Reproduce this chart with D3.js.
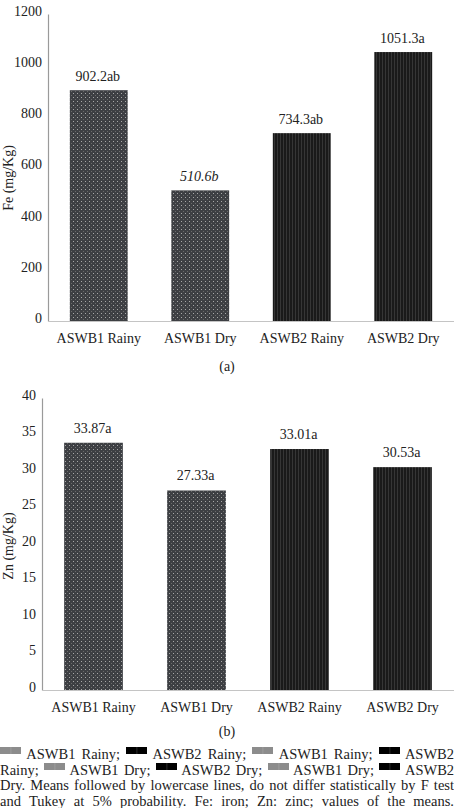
<!DOCTYPE html>
<html>
<head>
<meta charset="utf-8">
<script src="https://cdn.jsdelivr.net/npm/d3@7"></script>
<style>
  body { margin: 0; background: #fff; }
  #wrap { position: relative; width: 454px; height: 808px; overflow: hidden; }
  svg { position: absolute; left: 0; top: 0; }
  text { font-family: "Liberation Serif", "Times New Roman", Times, "DejaVu Serif", serif; fill: #222; }
  #caption {
    position: absolute; left: 0; top: 747px; width: 454px;
    font-family: "Liberation Serif", "Times New Roman", Times, "DejaVu Serif", serif;
    font-size: 14.5px; line-height: 15.5px; color: #222;
  }
  #caption div { text-align: justify; text-align-last: justify; white-space: nowrap; }
  .sw { display: inline-block; width: 21px; height: 7px; vertical-align: 5px; }
  .sw.gray { background: linear-gradient(90deg, #8c8c8c 48%, #a0a0a0 52%, #8c8c8c 56%); }
  .sw.black { background: linear-gradient(90deg, #000 48%, #333 52%, #000 56%); }
</style>
</head>
<body>
<div id="wrap">
  <svg id="chart" width="454" height="808"></svg>
  <div id="caption"></div>
</div>
<script>
// Categories and values
var categories = ['ASWB1 Rainy', 'ASWB1 Dry', 'ASWB2 Rainy', 'ASWB2 Dry'];
var feValues = [902.2, 510.6, 734.3, 1051.3];
var feLetters = ['ab', 'b', 'ab', 'a'];
var feTicks = [0, 200, 400, 600, 800, 1000, 1200];
var znValues = [33.87, 27.33, 33.01, 30.53];
var znLetters = ['a', 'a', 'a', 'a'];
var znTicks = [0, 5, 10, 15, 20, 25, 30, 35, 40];

var svg = d3.select('#chart');

// Fill patterns
var defs = svg.append('defs');

var dots = defs.append('pattern')
  .attr('id', 'dots')
  .attr('patternUnits', 'userSpaceOnUse')
  .attr('width', 4)
  .attr('height', 4);
dots.append('rect').attr('width', 4).attr('height', 4).attr('fill', '#3d3f43');
dots.append('rect').attr('x', 1).attr('y', 1).attr('width', 1).attr('height', 1).attr('fill', '#a8a8a8');
dots.append('rect').attr('x', 3).attr('y', 3).attr('width', 1).attr('height', 1).attr('fill', '#6a6a6a');

var lines = defs.append('pattern')
  .attr('id', 'vlines')
  .attr('patternUnits', 'userSpaceOnUse')
  .attr('width', 3)
  .attr('height', 3);
lines.append('rect').attr('width', 3).attr('height', 3).attr('fill', '#1a1a1a');
lines.append('rect').attr('x', 1).attr('width', 1).attr('height', 3).attr('fill', '#363636');

function fillFor(name) {
  return name.indexOf('ASWB1') === 0 ? 'url(#dots)' : 'url(#vlines)';
}

/**
 * Draws one bar panel.
 */
function drawPanel(opt) {
  var g = svg.append('g');

  var x = d3.scaleBand()
    .domain(categories)
    .range([opt.left, opt.right])
    .paddingInner(0.43)
    .paddingOuter(0.215);

  var y = d3.scaleLinear()
    .domain([0, d3.max(opt.ticks)])
    .range([opt.bottom, opt.top]);

  // Bars
  g.selectAll('.bar')
    .data(opt.values)
    .enter()
    .append('rect')
    .attr('class', 'bar')
    .attr('x', function(d, i) { return x(categories[i]); })
    .attr('y', function(d) { return y(d); })
    .attr('width', x.bandwidth())
    .attr('height', function(d) { return y(0) - y(d); })
    .attr('fill', function(d, i) { return fillFor(categories[i]); });

  // Value labels
  g.selectAll('.val')
    .data(opt.values)
    .enter()
    .append('text')
    .attr('class', 'val')
    .attr('x', function(d, i) { return x(categories[i]) + x.bandwidth() / 2 - 1; })
    .attr('y', function(d) { return y(d) - opt.labelGap; })
    .attr('text-anchor', 'middle')
    .attr('font-size', 14)
    .attr('font-style', function(d, i) { return opt.italic === i ? 'italic' : 'normal'; })
    .text(function(d, i) { return d + opt.letters[i]; });

  // Y axis
  var yAxis = d3.axisLeft(y)
    .tickValues(opt.ticks)
    .tickSize(0)
    .tickPadding(6)
    .tickFormat(d3.format('d'));

  var ya = g.append('g')
    .attr('transform', 'translate(' + opt.left + ',0)')
    .call(yAxis);
  ya.select('.domain').attr('stroke', '#9a9a9a').attr('stroke-width', 1.2);
  ya.selectAll('text')
    .attr('font-size', 14)
    .attr('fill', '#222')
    .attr('dy', '0.1em');

  // X axis
  var xAxis = d3.axisBottom(x).tickSize(0).tickPadding(12);
  var xa = g.append('g')
    .attr('transform', 'translate(0,' + opt.bottom + ')')
    .call(xAxis);
  xa.select('.domain').attr('stroke', '#c4c4c4').attr('stroke-width', 1.2);
  xa.selectAll('text')
    .attr('font-size', 14)
    .attr('fill', '#222');

  // Axis title
  g.append('text')
    .attr('transform', 'translate(' + opt.titleX + ',' + opt.titleY + ') rotate(-90)')
    .attr('text-anchor', 'middle')
    .attr('font-size', 14)
    .text(opt.title);

  // Panel tag
  g.append('text')
    .attr('x', 227)
    .attr('y', opt.tagY)
    .attr('text-anchor', 'middle')
    .attr('font-size', 14)
    .text(opt.tag);
}

drawPanel({
  left: 48, right: 454, top: 14, bottom: 321,
  ticks: feTicks, values: feValues, letters: feLetters, italic: 1,
  labelGap: 9, title: 'Fe (mg/Kg)', titleX: 13, titleY: 178,
  tag: '(a)', tagY: 371
});

drawPanel({
  left: 42, right: 454, top: 398, bottom: 690,
  ticks: znTicks, values: znValues, letters: znLetters, italic: -1,
  labelGap: 10, title: 'Zn (mg/Kg)', titleX: 13, titleY: 546,
  tag: '(b)', tagY: 736
});

// Caption with legend swatches
var captionLines = [
  [['gray', 'ASWB1 Rainy;'], ['black', 'ASWB2 Rainy;'], ['gray', 'ASWB1 Rainy;'], ['black', 'ASWB2']],
  [[null, 'Rainy;'], ['gray', 'ASWB1 Dry;'], ['black', 'ASWB2 Dry;'], ['gray', 'ASWB1 Dry;'], ['black', 'ASWB2']],
  [[null, 'Dry. Means followed by lowercase lines, do not differ statistically by F test']],
  [[null, 'and Tukey at 5% probability. Fe: iron; Zn: zinc; values of the means.']]
];

var cap = d3.select('#caption');
captionLines.forEach(function(parts) {
  var line = cap.append('div');
  parts.forEach(function(p, i) {
    if (i > 0) line.append('span').text(' ');
    if (p[0]) {
      line.append('span').attr('class', 'sw ' + p[0]);
      line.append('span').text(' ');
    }
    line.append('span').text(p[1]);
  });
});
</script>
</body>
</html>
